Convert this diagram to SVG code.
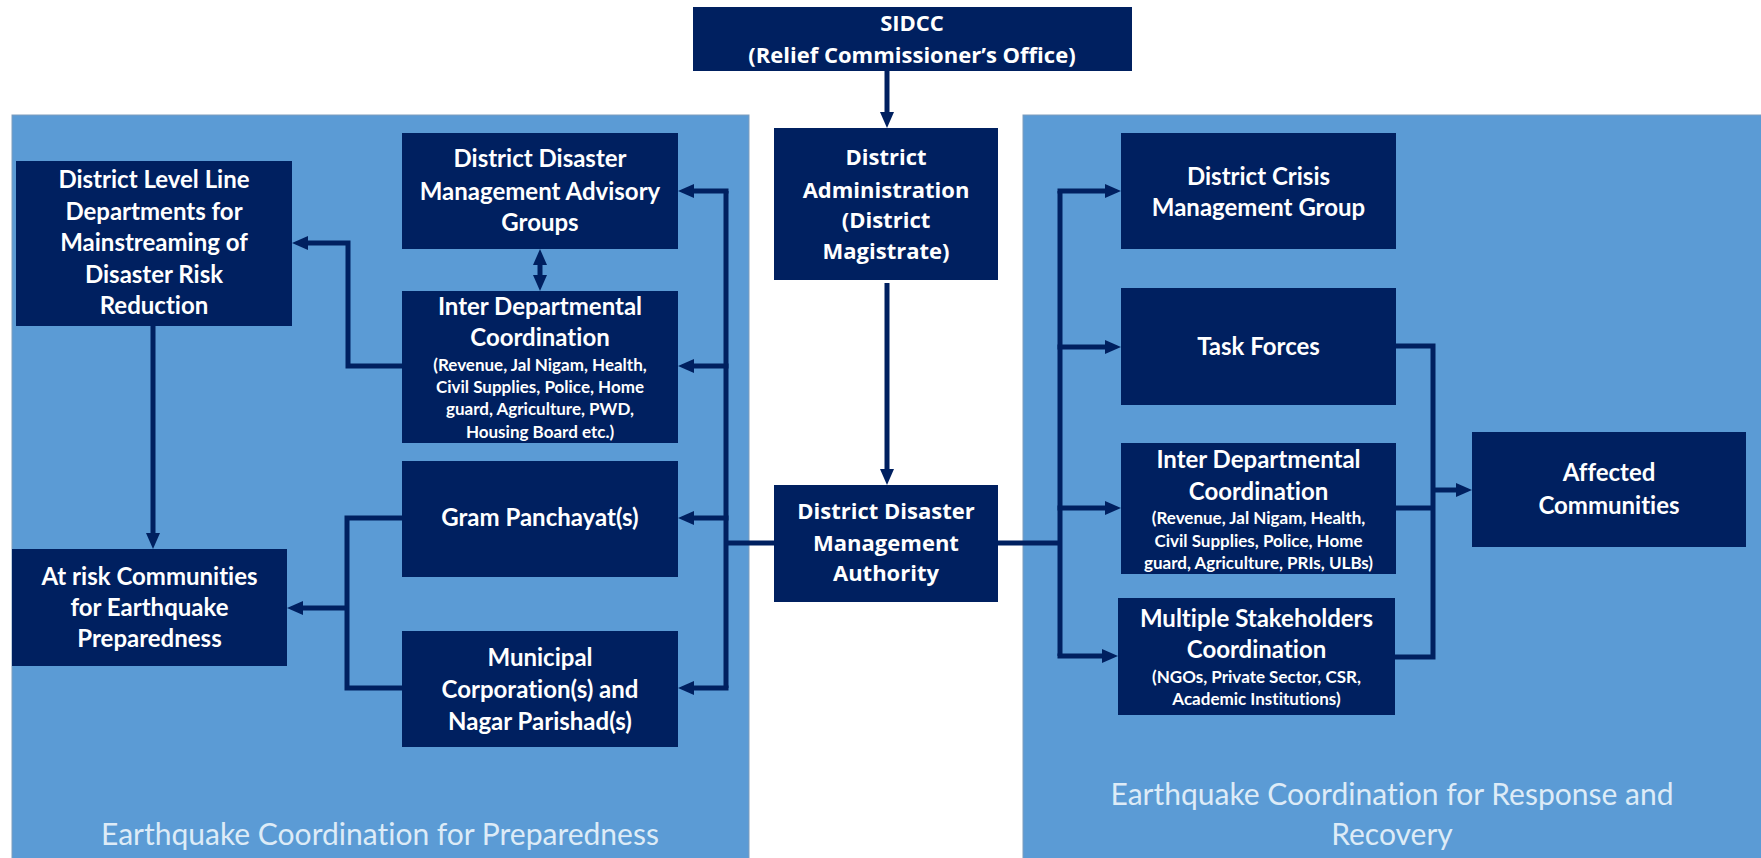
<svg xmlns="http://www.w3.org/2000/svg" width="1761" height="858" viewBox="0 0 1761 858">
<style>
.panel{fill:#5B9BD5;stroke:#7E9DBD;stroke-width:1}
.box{fill:#002060}
.t{font-family:Lato,"Open Sans",sans-serif;font-weight:700;font-size:24px;fill:#FFFFFF;text-anchor:middle;font-variant-ligatures:none}
.s{font-size:17px}
.v{font-family:"Open Sans","DejaVu Sans",sans-serif;font-weight:700;font-size:22px;fill:#FFFFFF;text-anchor:middle}
.title{font-family:Lato,"Open Sans",sans-serif;font-weight:400;font-size:30px;fill:#DDEBF7;text-anchor:middle;font-variant-ligatures:none}
.c{fill:none;stroke:#002060;stroke-width:5}
.a{marker-end:url(#arr)}
</style>
<defs>
<marker id="arr" markerUnits="userSpaceOnUse" markerWidth="16" markerHeight="14" refX="6" refY="7" orient="auto">
<path d="M0,0 L16,7 L0,14 z" fill="#002060"/>
</marker>
<marker id="arrs" markerUnits="userSpaceOnUse" markerWidth="16" markerHeight="14" refX="6" refY="7" orient="auto-start-reverse">
<path d="M0,0 L16,7 L0,14 z" fill="#002060"/>
</marker>
</defs>
<rect width="1761" height="858" fill="#FFFFFF"/>

<g id="panel-preparedness">
<rect class="panel" x="12" y="115" width="737" height="750"/>
<text class="title" x="380" y="845">Earthquake Coordination for Preparedness</text>
</g>
<g id="panel-response">
<rect class="panel" x="1023" y="115" width="745" height="750"/>
<text class="title" x="1392" y="805">Earthquake Coordination for Response and</text>
<text class="title" x="1392" y="845">Recovery</text>
</g>

<g id="connectors">
<path class="c a" d="M887,71 V118"/>
<path class="c a" d="M887,283 V475"/>
<path class="c" d="M774,543 H726"/>
<path class="c" d="M726,191 V688"/>
<path class="c a" d="M728.5,191 H688"/>
<path class="c a" d="M728.5,366 H688"/>
<path class="c a" d="M728.5,518 H688"/>
<path class="c a" d="M728.5,688 H688"/>
<path class="c a" d="M402,366 H348 V243 H302"/>
<path class="c" d="M540,259 V281" style="marker-start:url(#arrs);marker-end:url(#arrs)"/>
<path class="c a" d="M153,326 V539"/>
<path class="c" d="M402,518 H347 V688 H402"/>
<path class="c a" d="M347,608 H297"/>
<path class="c" d="M998,543 H1060"/>
<path class="c" d="M1060,191 V656"/>
<path class="c a" d="M1057.5,191 H1111"/>
<path class="c a" d="M1057.5,347 H1111"/>
<path class="c a" d="M1057.5,508 H1111"/>
<path class="c a" d="M1057.5,656 H1108"/>
<path class="c" d="M1396,346 H1433 V657 H1394"/>
<path class="c" d="M1396,508 H1433"/>
<path class="c a" d="M1433,490 H1462"/>
</g>

<g id="sidcc">
<rect class="box" x="693" y="7" width="439" height="64"/>
<text class="v" x="912" y="31">SIDCC</text>
<text class="v" x="912" y="63">(Relief Commissioner’s Office)</text>
</g>
<g id="district-administration">
<rect class="box" x="774" y="128" width="224" height="152"/>
<text class="v" x="886" y="165">District</text>
<text class="v" x="886" y="198">Administration</text>
<text class="v" x="886" y="228">(District</text>
<text class="v" x="886" y="259">Magistrate)</text>
</g>
<g id="ddma">
<rect class="box" x="774" y="485" width="224" height="117"/>
<text class="v" x="886" y="519">District Disaster</text>
<text class="v" x="886" y="551">Management</text>
<text class="v" x="886" y="581">Authority</text>
</g>
<g id="district-line-departments">
<rect class="box" x="16" y="161" width="276" height="165"/>
<text class="t" x="154" y="188">District Level Line</text>
<text class="t" x="154" y="220">Departments for</text>
<text class="t" x="154" y="251">Mainstreaming of</text>
<text class="t" x="154" y="283">Disaster Risk</text>
<text class="t" x="154" y="314">Reduction</text>
</g>
<g id="ddmag">
<rect class="box" x="402" y="133" width="276" height="116"/>
<text class="t" x="540" y="167">District Disaster</text>
<text class="t" x="540" y="200">Management Advisory</text>
<text class="t" x="540" y="231">Groups</text>
</g>
<g id="inter-dept-left">
<rect class="box" x="402" y="291" width="276" height="152"/>
<text class="t" x="540" y="315">Inter Departmental</text>
<text class="t" x="540" y="346">Coordination</text>
<text class="t s" x="540" y="371">(Revenue, Jal Nigam, Health,</text>
<text class="t s" x="540" y="393">Civil Supplies, Police, Home</text>
<text class="t s" x="540" y="415">guard, Agriculture, PWD,</text>
<text class="t s" x="540" y="438">Housing Board etc.)</text>
</g>
<g id="gram-panchayat">
<rect class="box" x="402" y="461" width="276" height="116"/>
<text class="t" x="540" y="526">Gram Panchayat(s)</text>
</g>
<g id="municipal">
<rect class="box" x="402" y="631" width="276" height="116"/>
<text class="t" x="540" y="666">Municipal</text>
<text class="t" x="540" y="698">Corporation(s) and</text>
<text class="t" x="540" y="730">Nagar Parishad(s)</text>
</g>
<g id="at-risk">
<rect class="box" x="12" y="549" width="275" height="117"/>
<text class="t" x="149.5" y="585">At risk Communities</text>
<text class="t" x="149.5" y="616">for Earthquake</text>
<text class="t" x="149.5" y="647">Preparedness</text>
</g>
<g id="crisis-group">
<rect class="box" x="1121" y="133" width="275" height="116"/>
<text class="t" x="1258.5" y="185">District Crisis</text>
<text class="t" x="1258.5" y="216">Management Group</text>
</g>
<g id="task-forces">
<rect class="box" x="1121" y="288" width="275" height="117"/>
<text class="t" x="1258.5" y="355">Task Forces</text>
</g>
<g id="inter-dept-right">
<rect class="box" x="1121" y="443" width="275" height="131"/>
<text class="t" x="1258.5" y="468">Inter Departmental</text>
<text class="t" x="1258.5" y="500">Coordination</text>
<text class="t s" x="1258.5" y="524">(Revenue, Jal Nigam, Health,</text>
<text class="t s" x="1258.5" y="547">Civil Supplies, Police, Home</text>
<text class="t s" x="1258.5" y="569">guard, Agriculture, PRIs, ULBs)</text>
</g>
<g id="multi-stakeholders">
<rect class="box" x="1118" y="598" width="277" height="117"/>
<text class="t" x="1256.5" y="627">Multiple Stakeholders</text>
<text class="t" x="1256.5" y="658">Coordination</text>
<text class="t s" x="1256.5" y="683">(NGOs, Private Sector, CSR,</text>
<text class="t s" x="1256.5" y="705">Academic Institutions)</text>
</g>
<g id="affected">
<rect class="box" x="1472" y="432" width="274" height="115"/>
<text class="t" x="1609" y="481">Affected</text>
<text class="t" x="1609" y="514">Communities</text>
</g>
</svg>
